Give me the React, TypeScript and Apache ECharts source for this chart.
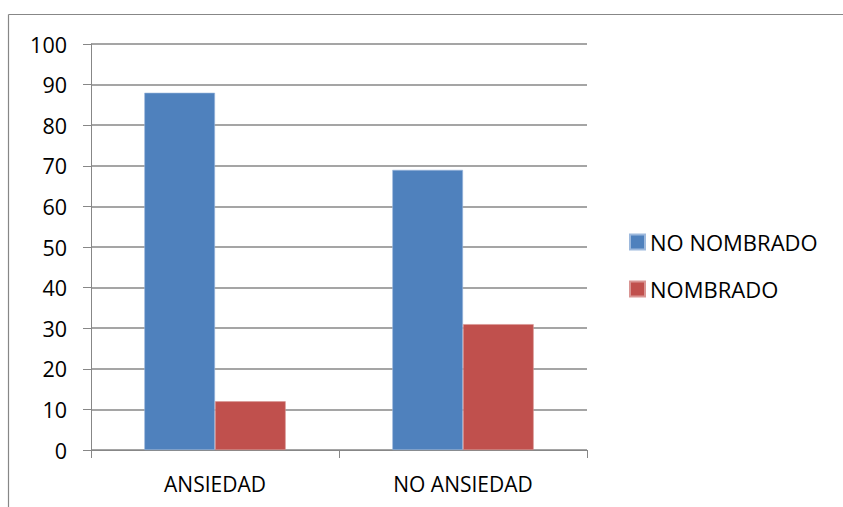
import React, { useEffect, useRef } from "react";
import * as echarts from "echarts";

const categories = ["ANSIEDAD", "NO ANSIEDAD"];
const seriesNames = ["NO NOMBRADO", "NOMBRADO"];
const noNombrado = [88, 69];
const nombrado = [12, 31];
const colors = ["#4F81BD", "#C0504D"];

const FONT = "'Open Sans', 'Liberation Sans', sans-serif";
const GRAY = "#878787";

export default function App() {
  const ref = useRef<HTMLDivElement>(null);
  useEffect(() => {
    if (!ref.current) return;
    const chart = echarts.init(ref.current, null, { renderer: "svg" });
    chart.setOption({
      animation: false,
      backgroundColor: "#ffffff",
      textStyle: { fontFamily: FONT },
      grid: { left: 91, right: 256, top: 44, bottom: 57, containLabel: false },
      legend: {
        orient: "vertical",
        left: 624,
        top: 226,
        padding: 5,
        itemWidth: 15,
        itemHeight: 15,
        itemGap: 25,
        itemTextGap: 8,
        icon: "rect",
        data: seriesNames,
        textStyle: { fontFamily: FONT, fontSize: 22, color: "#000", lineHeight: 22 },
      },
      xAxis: {
        type: "category",
        data: categories,
        axisLine: { show: true, lineStyle: { color: GRAY, width: 1 } },
        axisTick: { show: true, length: 8, lineStyle: { color: GRAY } },
        axisLabel: { color: "#000", fontSize: 21, fontFamily: FONT, margin: 23 },
      },
      yAxis: {
        type: "value",
        min: 0,
        max: 100,
        interval: 10,
        axisLine: { show: true, lineStyle: { color: GRAY, width: 1 } },
        axisTick: { show: true, length: 8, lineStyle: { color: GRAY } },
        splitLine: { show: true, lineStyle: { color: GRAY, width: 1.5 } },
        axisLabel: { color: "#000", fontSize: 21.5, fontFamily: FONT, margin: 24 },
      },
      series: [
        {
          name: seriesNames[0],
          type: "bar",
          data: noNombrado,
          barGap: "0%",
          barCategoryGap: "43%",
          itemStyle: { color: colors[0], borderColor: "#9DB9DD", borderWidth: 0.6 },
        },
        {
          name: seriesNames[1],
          type: "bar",
          data: nombrado,
          barGap: "0%",
          barCategoryGap: "43%",
          itemStyle: { color: colors[1], borderColor: "#D99593", borderWidth: 0.6 },
        },
      ],
      graphic: [
        {
          type: "line",
          shape: { x1: 8.5, y1: 14.5, x2: 843, y2: 14.5 },
          style: { stroke: GRAY, lineWidth: 1.2 },
          silent: true,
        },
        {
          type: "line",
          shape: { x1: 8.5, y1: 14.5, x2: 8.5, y2: 507 },
          style: { stroke: GRAY, lineWidth: 1.2 },
          silent: true,
        },
      ],
    });
    return () => chart.dispose();
  }, []);
  return (
    <div
      ref={ref}
      style={{ position: "fixed", left: 0, top: 0, width: 843, height: 507 }}
    />
  );
}
